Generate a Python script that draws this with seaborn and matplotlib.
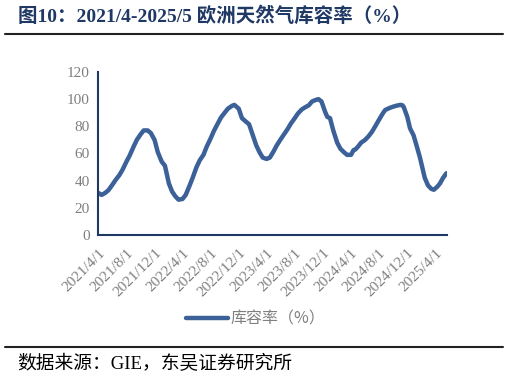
import matplotlib
matplotlib.use("Agg")
import matplotlib.pyplot as plt
from matplotlib.lines import Line2D
import seaborn as sns
import pandas as pd

# ---- data ----
dates = [
    "2021-04-01", "2021-04-15", "2021-05-01", "2021-05-15", "2021-06-01", "2021-06-15",
    "2021-07-01", "2021-07-15", "2021-08-01", "2021-08-15", "2021-09-01", "2021-09-15",
    "2021-10-01", "2021-10-15", "2021-11-01", "2021-11-15", "2021-12-01", "2021-12-15",
    "2022-01-01", "2022-01-15", "2022-02-01", "2022-02-15", "2022-03-01", "2022-03-15",
    "2022-04-01", "2022-04-15", "2022-05-01", "2022-05-15", "2022-06-01", "2022-06-15",
    "2022-07-01", "2022-07-15", "2022-08-01", "2022-08-15", "2022-09-01", "2022-09-15",
    "2022-10-01", "2022-10-15", "2022-11-01", "2022-11-12", "2022-12-01", "2022-12-15",
    "2023-01-01", "2023-01-15", "2023-02-01", "2023-02-15", "2023-03-01", "2023-03-15",
    "2023-04-01", "2023-04-15", "2023-05-01", "2023-05-15", "2023-06-01", "2023-06-15",
    "2023-07-01", "2023-07-15", "2023-08-01", "2023-08-15", "2023-09-01", "2023-09-15",
    "2023-10-01", "2023-10-15", "2023-11-01", "2023-11-12", "2023-11-25", "2023-12-10",
    "2023-12-20", "2024-01-01", "2024-01-15", "2024-02-01", "2024-02-15", "2024-03-01",
    "2024-03-15", "2024-04-01", "2024-04-12", "2024-04-20", "2024-05-01", "2024-05-15",
    "2024-06-01", "2024-06-15", "2024-07-01", "2024-07-15", "2024-08-01", "2024-08-15",
    "2024-08-27", "2024-09-15", "2024-10-01", "2024-10-15", "2024-11-01", "2024-11-10",
    "2024-11-15", "2024-12-01", "2024-12-13", "2024-12-28", "2025-01-10", "2025-01-25",
    "2025-02-01", "2025-02-15", "2025-03-01", "2025-03-15", "2025-03-26", "2025-04-10",
    "2025-04-22", "2025-05-05", "2025-05-20",
]
storage = [
    31.0, 29.5, 31.0, 33.0, 37.0, 40.5,
    44.0, 48.0, 54.0, 58.5, 65.0, 70.0,
    74.0, 77.0, 77.0, 75.0, 70.0, 61.0,
    54.0, 51.0, 38.0, 32.0, 28.5, 26.0,
    26.5, 29.5, 36.0, 42.0, 50.0, 55.0,
    59.0, 65.0, 71.0, 76.5, 82.0, 86.5,
    90.0, 93.0, 95.0, 95.8, 93.0, 86.0,
    83.5, 81.5, 73.0, 66.0, 61.0, 57.0,
    56.0, 57.0, 61.5, 66.0, 70.5, 74.0,
    78.0, 82.0, 86.0, 89.5, 92.5, 94.0,
    95.5, 98.3, 99.5, 100.0, 98.3, 91.0,
    87.0, 86.0, 77.0, 68.0, 63.5, 61.0,
    59.0, 59.0, 62.5, 63.0, 65.0, 68.0,
    70.0, 72.5, 76.0, 80.0, 85.0, 89.0,
    92.0, 93.5, 94.5, 95.2, 95.8, 95.5,
    94.5, 87.0, 78.5, 73.5, 66.0, 57.0,
    52.0, 42.0, 36.5, 34.0, 33.3, 35.5,
    38.0, 42.0, 45.5,
]
tick_dates = ["2021-04-01", "2021-08-01", "2021-12-01", "2022-04-01", "2022-08-01",
              "2022-12-01", "2023-04-01", "2023-08-01", "2023-12-01", "2024-04-01",
              "2024-08-01", "2024-12-01", "2025-04-01"]
tick_labels = ["2021/4/1", "2021/8/1", "2021/12/1", "2022/4/1", "2022/8/1",
               "2022/12/1", "2023/4/1", "2023/8/1", "2023/12/1", "2024/4/1",
               "2024/8/1", "2024/12/1", "2025/4/1"]
series_name = "库容率（%）"
title_text = "图10：2021/4-2025/5 欧洲天然气库容率（%）"
source_text = "数据来源：GIE，东吴证券研究所"

df = pd.DataFrame({"date": pd.to_datetime(dates), "value": storage})

sns.set_theme(style="white")
plt.rcParams["font.family"] = ["Liberation Serif", "Noto Sans CJK SC", "DejaVu Sans"]

W, H = 510, 381
fig = plt.figure(figsize=(W / 100, H / 100), dpi=100)
ax = fig.add_axes([98.3 / W, 1 - 235 / H, (446.7 - 98.3) / W, (235 - 72) / H])

line_color = "#3b6198"
axis_color = "#1f3864"
gray = "#7f7f7f"

sns.lineplot(data=df, x="date", y="value", ax=ax, color=line_color, linewidth=3.2,
             label=series_name, legend=False)

ax.set_xlim(pd.Timestamp("2021-04-01"), pd.Timestamp("2025-05-21"))
ax.set_ylim(0, 120)
ax.set_yticks(range(0, 121, 20))
ax.set_xticks(pd.to_datetime(tick_dates))
ax.set_xticklabels(tick_labels, rotation=45, ha="right", rotation_mode="anchor")
ax.set_xlabel("")
ax.set_ylabel("")

for s in ["top", "right"]:
    ax.spines[s].set_visible(False)
for s in ["left", "bottom"]:
    ax.spines[s].set_color(axis_color)
    ax.spines[s].set_linewidth(1.5)

ax.tick_params(axis="both", direction="in", length=4, width=1.2, color=axis_color,
               labelcolor=gray, labelsize=11)
ax.tick_params(axis="y", pad=6)
ax.tick_params(axis="x", pad=8)
ax.grid(False)

leg_handle = Line2D([0], [0], color=line_color, linewidth=3.2)
fig.legend([leg_handle], [series_name], loc="center", bbox_to_anchor=(256 / W, 1 - 319 / H),
           frameon=False, handlelength=2.6, handletextpad=0.2,
           prop={"family": ["Noto Sans CJK SC", "DejaVu Sans"], "size": 11.5},
           labelcolor=gray)

# title and rules
fig.text(18 / W, 1 - 16 / H, title_text, ha="left", va="center", fontsize=14,
         fontweight="bold", color=axis_color,
         family=["Liberation Serif", "Noto Sans CJK SC"])
fig.add_artist(Line2D([5 / W, 503 / W], [1 - 33.5 / H, 1 - 33.5 / H],
                      transform=fig.transFigure, color="#222222", linewidth=1.5))
fig.add_artist(Line2D([5 / W, 503 / W], [1 - 347.3 / H, 1 - 347.3 / H],
                      transform=fig.transFigure, color="#222222", linewidth=1.5))
fig.text(17 / W, 1 - 364 / H, source_text, ha="left", va="center", fontsize=13.5,
         color="black", family=["Liberation Serif", "Noto Sans CJK SC"])

fig.savefig("out.png", dpi=100)
